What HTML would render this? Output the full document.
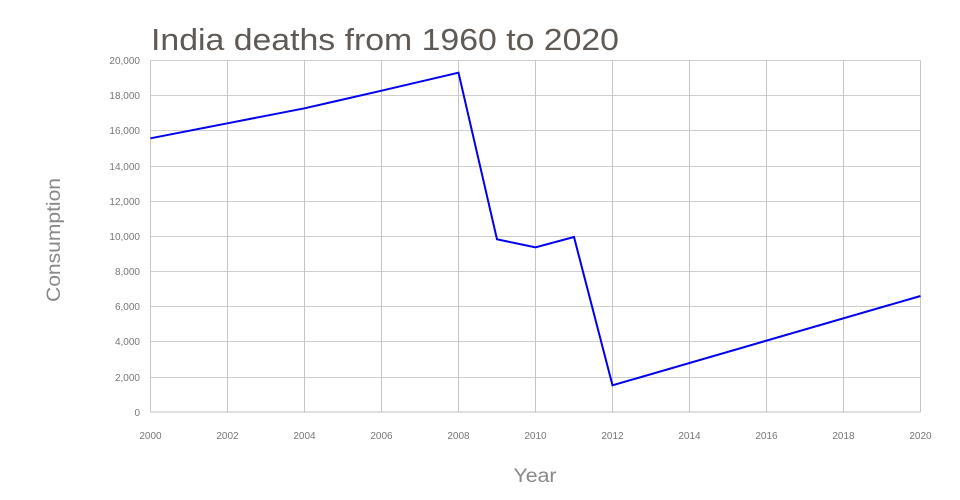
<!DOCTYPE html>
<html><head><meta charset="utf-8"><style>
html,body{margin:0;padding:0;background:#fff;}
svg{display:block;}
text{font-family:"Liberation Sans",sans-serif;}
</style></head><body>
<svg width="960" height="500" viewBox="0 0 960 500" xmlns="http://www.w3.org/2000/svg">
<rect width="960" height="500" fill="#fff"/>
<text x="151" y="50" font-size="31" fill="#5f5a55" textLength="468" lengthAdjust="spacingAndGlyphs">India deaths from 1960 to 2020</text>
<g stroke="#cfcfcf" stroke-width="1">
<line x1="150.5" y1="60.5" x2="920.5" y2="60.5"/>
<line x1="150.5" y1="95.5" x2="920.5" y2="95.5"/>
<line x1="150.5" y1="130.5" x2="920.5" y2="130.5"/>
<line x1="150.5" y1="166.5" x2="920.5" y2="166.5"/>
<line x1="150.5" y1="201.5" x2="920.5" y2="201.5"/>
<line x1="150.5" y1="236.5" x2="920.5" y2="236.5"/>
<line x1="150.5" y1="271.5" x2="920.5" y2="271.5"/>
<line x1="150.5" y1="306.5" x2="920.5" y2="306.5"/>
<line x1="150.5" y1="341.5" x2="920.5" y2="341.5"/>
<line x1="150.5" y1="377.5" x2="920.5" y2="377.5"/>
</g>
<g stroke="#c4c4c4" stroke-width="1">
<line x1="150.5" y1="60.5" x2="150.5" y2="412"/>
<line x1="227.5" y1="60.5" x2="227.5" y2="412"/>
<line x1="304.5" y1="60.5" x2="304.5" y2="412"/>
<line x1="381.5" y1="60.5" x2="381.5" y2="412"/>
<line x1="458.5" y1="60.5" x2="458.5" y2="412"/>
<line x1="535.5" y1="60.5" x2="535.5" y2="412"/>
<line x1="612.5" y1="60.5" x2="612.5" y2="412"/>
<line x1="689.5" y1="60.5" x2="689.5" y2="412"/>
<line x1="766.5" y1="60.5" x2="766.5" y2="412"/>
<line x1="843.5" y1="60.5" x2="843.5" y2="412"/>
<line x1="920.5" y1="60.5" x2="920.5" y2="412"/>
<line x1="150.5" y1="412" x2="920.5" y2="412" stroke="#bdbdbd"/>
</g>
<g font-size="10" fill="#777" text-anchor="end">
<text x="140" y="64">20,000</text>
<text x="140" y="99">18,000</text>
<text x="140" y="134">16,000</text>
<text x="140" y="170">14,000</text>
<text x="140" y="205">12,000</text>
<text x="140" y="240">10,000</text>
<text x="140" y="275">8,000</text>
<text x="140" y="310">6,000</text>
<text x="140" y="345">4,000</text>
<text x="140" y="381">2,000</text>
<text x="140" y="416">0</text>
</g>
<g font-size="10" fill="#777" text-anchor="middle">
<text x="150.5" y="439">2000</text>
<text x="227.5" y="439">2002</text>
<text x="304.5" y="439">2004</text>
<text x="381.5" y="439">2006</text>
<text x="458.5" y="439">2008</text>
<text x="535.5" y="439">2010</text>
<text x="612.5" y="439">2012</text>
<text x="689.5" y="439">2014</text>
<text x="766.5" y="439">2016</text>
<text x="843.5" y="439">2018</text>
<text x="920.5" y="439">2020</text>
</g>
<text x="535" y="482" font-size="19" fill="#888" text-anchor="middle" textLength="43" lengthAdjust="spacingAndGlyphs">Year</text>
<text transform="translate(60,240) rotate(-90)" x="0" y="0" font-size="19" fill="#888" text-anchor="middle" textLength="124" lengthAdjust="spacingAndGlyphs">Consumption</text>
<polyline fill="none" stroke="#0000ee" stroke-width="2" stroke-linejoin="miter"
points="150.5,138.3 189,130.8 227.5,123.3 266,115.8 304.5,108.3 343,99.5 381.5,90.7 420,81.7 458.5,72.7 497,239.3 535.5,247.3 574,237 612.5,385.3 920.5,296"/>
</svg>
</body></html>
